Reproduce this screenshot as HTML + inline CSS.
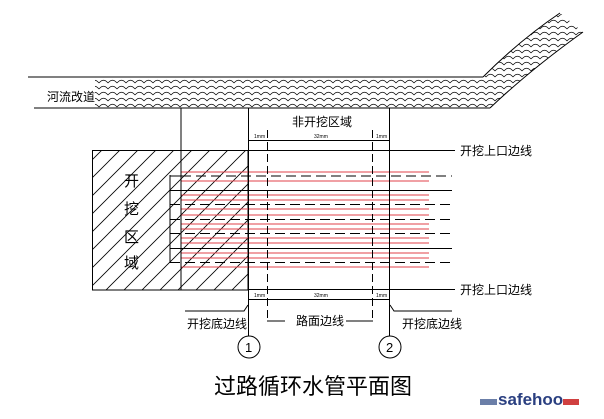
<!DOCTYPE html>
<html><head><meta charset="utf-8"><style>
html,body{margin:0;padding:0;background:#fff;}
svg{display:block;}
text{font-family:"Liberation Sans","Noto Sans CJK SC",sans-serif;fill:#000;}
</style></head><body>
<svg width="604" height="419" viewBox="0 0 604 419" xmlns="http://www.w3.org/2000/svg">
<defs>
<pattern id="wave" width="9" height="6" patternUnits="userSpaceOnUse">
<path d="M0 5 Q4.5 -0.5 9 5" fill="none" stroke="#000" stroke-width="0.7"/>
</pattern>
<pattern id="hatch" width="18" height="18" patternUnits="userSpaceOnUse">
<path d="M0 18 L18 0 M-4.5 4.5 L4.5 -4.5 M13.5 22.5 L22.5 13.5" stroke="#000" stroke-width="0.8"/>
</pattern>
<clipPath id="hc"><rect x="92" y="150" width="156" height="140"/></clipPath>
</defs>
<!-- river -->
<path d="M95 78 L483 78 Q520 40 560 13 L583 32 Q530 70 490 108 L95 108 Z" fill="url(#wave)"/>
<line x1="28" y1="77" x2="483" y2="77" stroke="#000"/>
<line x1="34" y1="108" x2="490" y2="108" stroke="#000"/>
<path d="M483 77 Q520 40 560 13" fill="none" stroke="#000"/>
<path d="M490 108 Q530 70 583 32" fill="none" stroke="#000"/>
<text x="47" y="101" font-size="12">河流改道</text>
<!-- hatch region -->
<rect x="92" y="150" width="156" height="140" fill="url(#hatch)" clip-path="url(#hc)"/>
<rect x="92.5" y="150.5" width="155.5" height="139.5" fill="none" stroke="#000"/>
<g font-size="15">
<text x="124" y="186">开</text><text x="124" y="214">挖</text><text x="124" y="242">区</text><text x="124" y="268">域</text>
</g>
<!-- horizontal boundary lines -->
<line x1="248" y1="150.5" x2="455" y2="150.5" stroke="#000"/>
<line x1="248" y1="289.5" x2="455" y2="289.5" stroke="#000"/>
<text x="460" y="155" font-size="12">开挖上口边线</text>
<text x="460" y="294" font-size="12">开挖上口边线</text>
<!-- red pipes -->
<g stroke="#e0404a" stroke-width="1">
<line x1="181" y1="172" x2="429" y2="172"/><line x1="181" y1="181" x2="429" y2="181"/>
<line x1="181" y1="195" x2="429" y2="195"/><line x1="181" y1="200" x2="429" y2="200"/>
<line x1="181" y1="209" x2="429" y2="209"/><line x1="181" y1="215" x2="429" y2="215"/>
<line x1="181" y1="224" x2="429" y2="224"/><line x1="181" y1="229" x2="429" y2="229"/>
<line x1="181" y1="238" x2="429" y2="238"/><line x1="181" y1="243" x2="429" y2="243"/>
<line x1="181" y1="253" x2="429" y2="253"/><line x1="181" y1="258" x2="429" y2="258"/>
<line x1="181" y1="267" x2="429" y2="267"/>
</g>
<!-- black pipe lines -->
<g stroke="#000" stroke-width="1">
<line x1="181" y1="176" x2="452" y2="176" stroke-dasharray="10,5"/>
<line x1="170" y1="190.5" x2="452" y2="190.5"/>
<line x1="170" y1="204.5" x2="452" y2="204.5" stroke-dasharray="10,5"/>
<line x1="170" y1="219.5" x2="452" y2="219.5" stroke-dasharray="10,5"/>
<line x1="170" y1="233.5" x2="452" y2="233.5" stroke-dasharray="10,5"/>
<line x1="170" y1="248.5" x2="452" y2="248.5"/>
<line x1="170" y1="262.5" x2="452" y2="262.5" stroke-dasharray="10,5"/>
<line x1="170" y1="176" x2="181" y2="176"/>
</g>
<!-- dimension verticals -->
<g stroke="#000" stroke-width="1" fill="none">
<line x1="181" y1="108" x2="181" y2="290"/>
<line x1="170" y1="175" x2="170" y2="263"/>
<line x1="248.5" y1="108" x2="248.5" y2="336"/>
<line x1="389.5" y1="108" x2="389.5" y2="336"/>
<line x1="267.5" y1="130" x2="267.5" y2="321" stroke-dasharray="8,4"/>
<line x1="372.5" y1="130" x2="372.5" y2="321" stroke-dasharray="8,4"/>
<line x1="248" y1="140.5" x2="390" y2="140.5"/>
<line x1="248" y1="299.5" x2="390" y2="299.5"/>
<line x1="267" y1="321" x2="285" y2="321"/>
<line x1="346" y1="321" x2="373" y2="321"/>
<path d="M185 311 L244 311 L248 305"/>
<path d="M452 311 L394 311 L390 305"/>
<circle cx="249" cy="347" r="11"/>
<circle cx="390" cy="347" r="11"/>
</g>
<g font-size="5">
<text x="254" y="138">1mm</text><text x="314" y="138">32mm</text><text x="376" y="138">1mm</text>
<text x="254" y="297">1mm</text><text x="314" y="297">32mm</text><text x="376" y="297">1mm</text>
</g>
<text x="292" y="126" font-size="12">非开挖区域</text>
<text x="296" y="325" font-size="12">路面边线</text>
<text x="187" y="328" font-size="12">开挖底边线</text>
<text x="402" y="328" font-size="12">开挖底边线</text>
<text x="245" y="352" font-size="13">1</text>
<text x="386" y="352" font-size="13">2</text>
<text x="214" y="394" font-size="22">过路循环水管平面图</text>
<!-- watermark -->
<rect x="480" y="399" width="17" height="6" fill="#6b7fa8"/>
<text x="498" y="405" font-size="17" font-weight="bold" style="fill:#2a3f80">safehoo</text>
<rect x="563" y="399" width="16" height="6" fill="#d04040"/>
</svg>
</body></html>
